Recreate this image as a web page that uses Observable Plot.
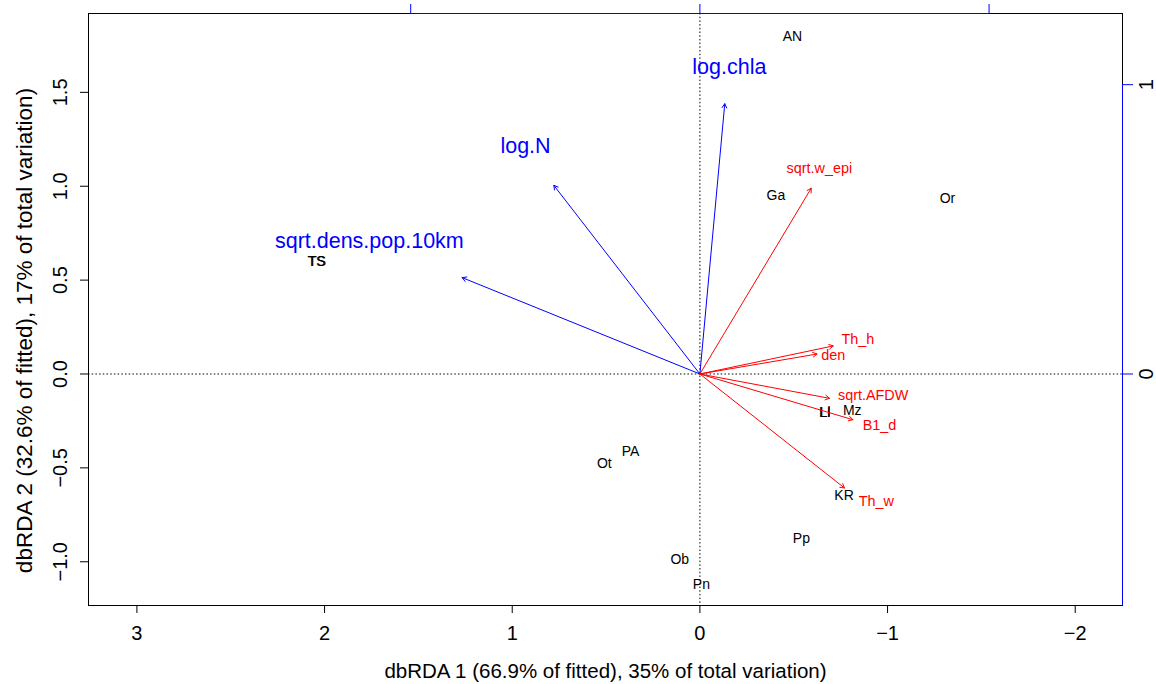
<!DOCTYPE html>
<html>
<head>
<meta charset="utf-8">
<script src="https://cdn.jsdelivr.net/npm/d3@7"></script>
<script src="https://cdn.jsdelivr.net/npm/@observablehq/plot@0.6"></script>
<style>
  html, body { margin: 0; padding: 0; background: white; }
  #chart svg { display: block; }
</style>
</head>
<body>
<div id="chart"></div>
<script>
// ---- data ----
// site scores (dbRDA 1, dbRDA 2)
const siteNames = ["AN", "Ga", "Or", "TS", "TS", "Ll", "LI", "Mz", "PA", "Ot", "KR", "Pp", "Ob", "Pn"];
const siteX = [-0.493, -0.405, -1.319, 2.043, 2.040, -0.668, -0.666, -0.812, 0.370, 0.509, -0.768, -0.541, 0.107, -0.008];
const siteY = [1.797, 0.953, 0.934, 0.598, 0.598, -0.206, -0.206, -0.195, -0.414, -0.475, -0.646, -0.877, -0.987, -1.120];

// environmental vectors (biplot scores, on the blue axes)
const envNames = ["sqrt.dens.pop.10km", "log.N", "log.chla"];
const envX = [0.822, 0.505, -0.086];
const envY = [0.333, 0.652, 0.934];
const envLabelX = [1.143, 0.603, -0.102];
const envLabelY = [0.461, 0.786, 1.062];

// species/trait vectors (biplot scores, on the blue axes)
const spNames = ["sqrt.w_epi", "Th_h", "den", "sqrt.AFDW", "B1_d", "Th_w"];
const spX = [-0.385, -0.461, -0.405, -0.448, -0.529, -0.500];
const spY = [0.642, 0.097, 0.069, -0.084, -0.158, -0.394];
const spLabelX = [-0.413, -0.546, -0.461, -0.599, -0.621, -0.610];
const spLabelY = [0.710, 0.118, 0.063, -0.075, -0.179, -0.441];

// arrow multiplier between the blue axes and the main axes
const mul = 1.541;

// axes
const xDomain = [3.258, -2.252];
const yDomain = [-1.233, 1.920];
const xTicks = [3, 2, 1, 0, -1, -2];
const xTickLabels = ["3", "2", "1", "0", "\u22121", "\u22122"];
const yTicks = [-1.0, -0.5, 0.0, 0.5, 1.0, 1.5];
const yTickLabels = ["\u22121.0", "\u22120.5", "0.0", "0.5", "1.0", "1.5"];
const topTicks = [1, 0, -1];
const rightTicks = [1, 0];
const rightTickLabels = ["1", "0"];
const xTitle = "dbRDA 1 (66.9% of fitted), 35% of total variation)";
const yTitle = "dbRDA 2 (32.6% of fitted), 17% of total variation)";

// ---- build tables ----
const sites = siteNames.map((n, i) => ({name: n, x: siteX[i], y: siteY[i]}));
const env = envNames.map((n, i) => ({name: n, x: envX[i] * mul, y: envY[i] * mul, lx: envLabelX[i] * mul, ly: envLabelY[i] * mul}));
const sp = spNames.map((n, i) => ({name: n, x: spX[i] * mul, y: spY[i] * mul, lx: spLabelX[i] * mul, ly: spLabelY[i] * mul}));
const xt = xTicks.map((v, i) => ({v, t: xTickLabels[i]}));
const yt = yTicks.map((v, i) => ({v, t: yTickLabels[i]}));
const rt = rightTicks.map((v, i) => ({v: v * mul, t: rightTickLabels[i]}));

const font = "'Liberation Sans', Arial, Helvetica, sans-serif";
const BLUE = "#0000ff", RED = "#ff0000";

const chart = Plot.plot({
  width: 1156,
  height: 684,
  marginLeft: 88,
  marginRight: 34,
  marginTop: 13,
  marginBottom: 79,
  x: {domain: xDomain},
  y: {domain: yDomain},
  style: {fontFamily: font, background: "white", color: "black"},
  marks: [
    Plot.ruleX([0], {stroke: "black", strokeDasharray: "1.5,2.2"}),
    Plot.ruleY([0], {stroke: "black", strokeDasharray: "1.5,2.2"}),
    Plot.frame({stroke: "black", strokeWidth: 1}),
    // bottom axis
    Plot.axisX({ticks: xTicks, tickSize: 8, tickFormat: () => "", label: null, stroke: "black"}),
    Plot.text(xt, {x: "v", text: "t", frameAnchor: "bottom", dy: 28, fontSize: 20, textAnchor: "middle", lineAnchor: "middle", fill: "black"}),
    // left axis
    Plot.axisY({ticks: yTicks, tickSize: 8, tickFormat: () => "", label: null, stroke: "black"}),
    Plot.text(yt, {y: "v", text: "t", frameAnchor: "left", dx: -28, rotate: -90, fontSize: 20, textAnchor: "middle", lineAnchor: "middle", fill: "black"}),
    // top (blue) axis
    Plot.ruleY([yDomain[1]], {x1: () => d3.max(topTicks) * mul, x2: () => d3.min(topTicks) * mul, stroke: BLUE}),
    Plot.axisX({anchor: "top", ticks: topTicks.map(d => d * mul), tickSize: 10, tickFormat: () => "", label: null, stroke: BLUE}),
    // right (blue) axis
    Plot.ruleX([xDomain[1]], {y1: () => d3.max(rightTicks) * mul, y2: () => yDomain[0], stroke: BLUE}),
    Plot.axisY({anchor: "right", ticks: rightTicks.map(d => d * mul), tickSize: 10, tickFormat: () => "", label: null, stroke: BLUE}),
    Plot.text(rt, {y: "v", text: "t", frameAnchor: "right", dx: 24, rotate: -90, fontSize: 20, textAnchor: "middle", lineAnchor: "middle", fill: "black"}),
    // titles
    Plot.text([xTitle], {text: d => d, frameAnchor: "bottom", dy: 66, fontSize: 20.5, textAnchor: "middle", lineAnchor: "middle", fill: "black"}),
    Plot.text([yTitle], {text: d => d, frameAnchor: "left", dx: -64, dy: 21, rotate: -90, fontSize: 22.5, textAnchor: "middle", lineAnchor: "middle", fill: "black"}),
    // site labels
    Plot.text(sites, {x: "x", y: "y", text: "name", fontSize: 14, fill: "black", lineAnchor: "middle"}),
    // arrows
    Plot.arrow(env, {x1: () => 0, y1: () => 0, x2: "x", y2: "y", stroke: BLUE, strokeWidth: 1, headLength: 7, headAngle: 60}),
    Plot.arrow(sp, {x1: () => 0, y1: () => 0, x2: "x", y2: "y", stroke: RED, strokeWidth: 1, headLength: 7, headAngle: 60}),
    Plot.text(env, {x: "lx", y: "ly", text: "name", fontSize: 21.5, fill: BLUE, lineAnchor: "middle"}),
    Plot.text(sp, {x: "lx", y: "ly", text: "name", fontSize: 14.4, fill: RED, lineAnchor: "middle"})
  ]
});
document.getElementById("chart").appendChild(chart);
</script>
</body>
</html>
